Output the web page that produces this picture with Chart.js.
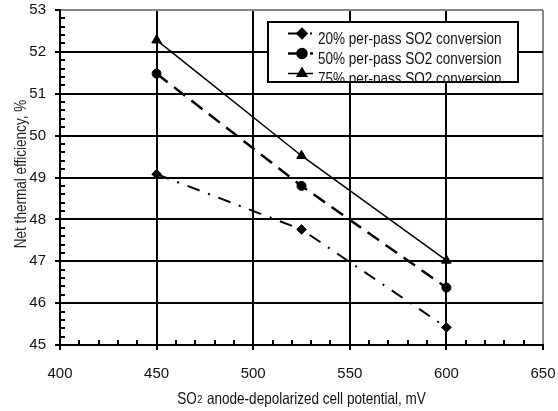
<!DOCTYPE html>
<html>
<head>
<meta charset="utf-8">
<script src="https://cdn.jsdelivr.net/npm/chart.js@4.4.0/dist/chart.umd.min.js"></script>
<style>
html,body{margin:0;padding:0;background:#fff;}
#wrap{width:558px;height:411px;position:relative;}
</style>
</head>
<body>
<div id="wrap"><canvas id="c" width="558" height="411"></canvas></div>
<script>
// ---- data ----
const potentials = [450, 525, 600];
const eff20 = [49.08, 47.76, 45.42];
const eff50 = [51.48, 48.80, 46.37];
const eff75 = [52.28, 49.52, 47.02];
const seriesLabels = ['20% per-pass SO2 conversion', '50% per-pass SO2 conversion', '75% per-pass SO2 conversion'];
const xTitleParts = ['SO', '2', ' anode-depolarized cell potential, mV'];
const yTitle = 'Net thermal efficiency, %';

const FONT = "'Liberation Sans', Arial, sans-serif";
const NARROW = 0.82;

function pts(ys){ return potentials.map((x,i)=>({x:x,y:ys[i]})); }

const datasets = [
  {label:seriesLabels[0], data:pts(eff20), borderColor:'#000', backgroundColor:'#000', borderWidth:2,
   borderDash:[13,9,2,9], pointStyle:'rectRot', pointRadius:4.8, pointBorderWidth:1},
  {label:seriesLabels[1], data:pts(eff50), borderColor:'#000', backgroundColor:'#000', borderWidth:2.5,
   borderDash:[14,8], pointStyle:'circle', pointRadius:4.5, pointBorderWidth:1},
  {label:seriesLabels[2], data:pts(eff75), borderColor:'#000', backgroundColor:'#000', borderWidth:1.5,
   borderDash:[], pointStyle:'triangle', pointRadius:5.5, pointBorderWidth:1}
];

const minorTicks = {
  id:'minorTicks',
  afterDatasetsDraw(chart){
    const ctx = chart.ctx, xs = chart.scales.x, ys = chart.scales.y;
    ctx.save();
    ctx.strokeStyle = '#000'; ctx.lineWidth = 2;
    ctx.beginPath();
    for (let i = 0; i <= 40; i++) {
      if (i % 5 === 0) continue;
      const y = Math.round(ys.getPixelForValue(45 + i*0.2));
      ctx.moveTo(xs.left, y); ctx.lineTo(xs.left + 5, y);
    }
    for (let i = 0; i <= 25; i++) {
      if (i % 5 === 0) continue;
      const x = Math.round(xs.getPixelForValue(400 + i*10));
      ctx.moveTo(x, ys.bottom); ctx.lineTo(x, ys.bottom - 5);
    }
    ctx.stroke();
    ctx.restore();
  }
};

// axis titles drawn in a narrow face (horizontal compression)
const axisTitles = {
  id:'axisTitles',
  afterDraw(chart){
    const ctx = chart.ctx, xs = chart.scales.x, ys = chart.scales.y;
    ctx.save();
    ctx.fillStyle = '#111';
    ctx.textBaseline = 'middle';
    const big = "16.5px " + FONT, small = "11px " + FONT;
    ctx.font = big; const w0 = ctx.measureText(xTitleParts[0]).width*NARROW;
    const w2 = ctx.measureText(xTitleParts[2]).width*NARROW;
    ctx.font = small; const w1 = ctx.measureText(xTitleParts[1]).width*NARROW + 1.5;
    let x = (xs.left + xs.right)/2 - (w0 + w1 + w2)/2;
    const ty = 399;
    ctx.save(); ctx.translate(x, ty); ctx.scale(NARROW, 1);
    ctx.font = big; ctx.textAlign = 'left'; ctx.fillText(xTitleParts[0], 0, 0);
    ctx.restore();
    ctx.save(); ctx.translate(x + w0 + 0.5, ty + 1); ctx.scale(NARROW, 1);
    ctx.font = small; ctx.fillText(xTitleParts[1], 0, 0);
    ctx.restore();
    ctx.save(); ctx.translate(x + w0 + w1, ty); ctx.scale(NARROW, 1);
    ctx.font = big; ctx.fillText(xTitleParts[2], 0, 0);
    ctx.restore();
    ctx.save(); ctx.translate(21, 174); ctx.rotate(-Math.PI/2); ctx.scale(NARROW, 1);
    ctx.font = big; ctx.textAlign = 'center'; ctx.fillStyle = '#222';
    ctx.fillText(yTitle, 0, 0);
    ctx.restore();
    ctx.restore();
  }
};

const boxLegend = {
  id:'boxLegend',
  afterDraw(chart){
    const ctx = chart.ctx;
    const bx = 268, by = 22, bw = 250, bh = 60;
    ctx.save();
    ctx.fillStyle = '#fff';
    ctx.fillRect(bx, by, bw, bh);
    ctx.beginPath(); ctx.rect(bx+1, by+1, bw-2, bh-2); ctx.clip();
    chart.data.datasets.forEach((ds, i) => {
      const ly = by + 11.5 + i*20;
      ctx.strokeStyle = '#000'; ctx.lineWidth = ds.borderWidth;
      ctx.setLineDash(ds.borderDash || []);
      ctx.beginPath(); ctx.moveTo(288, ly); ctx.lineTo(313, ly); ctx.stroke();
      ctx.setLineDash([]);
      Chart.helpers.drawPoint(ctx, {pointStyle: ds.pointStyle, radius: ds.pointRadius, borderWidth: 1}, 302, ly);
      ctx.fillStyle = '#000';
      ctx.fill();
      ctx.save();
      ctx.translate(318, ly + 5.5); ctx.scale(NARROW, 1);
      ctx.fillStyle = '#111';
      ctx.font = "16.5px " + FONT;
      ctx.textBaseline = 'middle';
      ctx.textAlign = 'left';
      ctx.fillText(ds.label, 0, 0);
      ctx.restore();
    });
    ctx.restore();
    ctx.save();
    ctx.strokeStyle = '#000'; ctx.lineWidth = 2;
    ctx.strokeRect(bx, by, bw, bh);
    ctx.restore();
  }
};

new Chart(document.getElementById('c'), {
  type:'line',
  data:{datasets:datasets},
  options:{
    responsive:false, animation:false,
    layout:{padding:{left:0, right:15, top:10, bottom:0}},
    plugins:{legend:{display:false}, tooltip:{enabled:false}},
    elements:{line:{tension:0}},
    scales:{
      x:{type:'linear', min:400, max:650,
        ticks:{stepSize:50, color:'#111', font:{family:FONT, size:15}, padding:15, maxRotation:0},
        grid:{color:(c)=> c.tick && c.tick.value === 650 ? '#888' : '#000', lineWidth:2, tickColor:'#000', tickLength:5, tickWidth:2},
        border:{color:'#000', width:2},
        title:{display:false},
        afterFit:(s)=>{ s.height = 66; s.paddingLeft = 0; s.paddingRight = 0; }
      },
      y:{min:45, max:53,
        ticks:{stepSize:1, color:'#111', font:{family:FONT, size:15}, padding:9},
        grid:{color:(c)=> c.tick && c.tick.value === 53 ? '#888' : '#000', lineWidth:2, tickColor:'#000', tickLength:5, tickWidth:2},
        border:{color:'#000', width:2},
        title:{display:false},
        afterFit:(s)=>{ s.width = 60; s.paddingTop = 0; s.paddingBottom = 0; }
      }
    }
  },
  plugins:[minorTicks, axisTitles, boxLegend]
});
</script>
</body>
</html>
